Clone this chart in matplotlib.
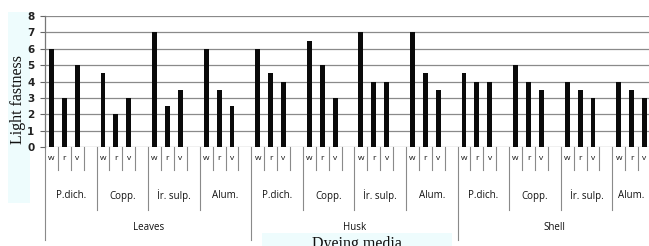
import matplotlib.pyplot as plt
from matplotlib.transforms import blended_transform_factory
from matplotlib.patches import Rectangle

# data
groups = ['Leaves', 'Husk', 'Shell']
mordants = ['P.dich.', 'Copp.', 'İr. sulp.', 'Alum.']
subs = ['w', 'r', 'v']
yticks = [0, 1, 2, 3, 4, 5, 6, 7, 8]

leaves = [[6, 3, 5], [4.5, 2, 3], [7, 2.5, 3.5], [6, 3.5, 2.5]]
husk = [[6, 4.5, 4], [6.5, 5, 3], [7, 4, 4], [7, 4.5, 3.5]]
shell = [[4.5, 4, 4], [5, 4, 3.5], [4, 3.5, 3], [4, 3.5, 3]]
all_vals = [leaves, husk, shell]

W, H = 649, 246
fig = plt.figure(figsize=(W / 100, H / 100), dpi=100)
fig.patch.set_facecolor('white')

# pale boxes behind the axis titles (drawn first, under everything)
fig.patches.append(Rectangle((8 / W, (H - 203) / H), 22 / W, (203 - 12) / H,
                             transform=fig.transFigure, facecolor='#eefcfd',
                             edgecolor='none', zorder=-5))
fig.patches.append(Rectangle((262 / W, 0), (452 - 262) / W, (H - 233) / H,
                             transform=fig.transFigure, facecolor='#eefcfd',
                             edgecolor='none', zorder=-5))

# 47 category slots (the very last blank slot is missing)
nslots = 47
left, right, top, bottom = 45, 651, 16, 147
ax = fig.add_axes([left / W, (H - bottom) / H, (right - left) / W, (bottom - top) / H])

xs, hs = [], []
for g, gv in enumerate(all_vals):
    for m, mv in enumerate(gv):
        for s, v in enumerate(mv):
            xs.append(g * 16 + m * 4 + s)
            hs.append(v)

ax.bar(xs, hs, width=0.38, color='#0a0a0a', zorder=3)

ax.set_xlim(-0.5, nslots - 0.5)
ax.set_ylim(0, 8)
ax.set_yticks(yticks)
ax.set_yticklabels([str(t) for t in yticks], fontsize=7.5, fontweight='bold',
                   family='DejaVu Sans', color='#222222')
ax.tick_params(axis='y', length=3.6, width=0.8, colors='#666666', labelcolor='#222222', pad=4)
ax.set_xticks([])
ax.grid(axis='y', color='#8a8a8a', linewidth=0.9, zorder=0)
for sp in ['top', 'right', 'bottom']:
    ax.spines[sp].set_visible(False)
ax.spines['left'].set_color('#777777')
ax.spines['left'].set_linewidth(0.9)

# multi-level category axis below the plot
tr = blended_transform_factory(ax.transData, fig.transFigure)
def fy(px):
    return (H - px) / H

line_kw = dict(color='#8a8a8a', linewidth=0.8, transform=tr, clip_on=False)
ax.plot([-0.5, -0.5], [fy(bottom), fy(240)], **line_kw)
for k in range(1, nslots):
    if k % 16 == 0:
        end = 240
    elif k % 4 == 0:
        end = 210
    else:
        end = 170
    ax.plot([k - 0.5, k - 0.5], [fy(bottom), fy(end)], **line_kw)

group_centers = [7.5, 23.5, 39]
for g, gname in enumerate(groups):
    ax.text(group_centers[g], fy(228), gname, transform=tr, ha='center', va='center',
            fontsize=7, family='Open Sans', color='#111111')
    for m, mname in enumerate(mordants):
        start = g * 16 + m * 4
        mid = start + 1 if start + 3 >= nslots else start + 1.5
        ax.text(mid, fy(196), mname, transform=tr, ha='center',
                va='center', fontsize=7, family='Open Sans', color='#111111')
        for s, sname in enumerate(subs):
            ax.text(start + s, fy(159), sname, transform=tr, ha='center',
                    va='center', fontsize=6, family='Open Sans', color='#111111')

# axis titles
fig.text(18 / W, fy(100), 'Light fastness', rotation=90, ha='center', va='center',
         fontsize=11.5, family='Liberation Serif', color='#111111')
fig.text(357 / W, fy(236), 'Dyeing media', ha='center', va='top',
         fontsize=11.5, family='Liberation Serif', color='#111111')

fig.savefig('out.png', dpi=100)
